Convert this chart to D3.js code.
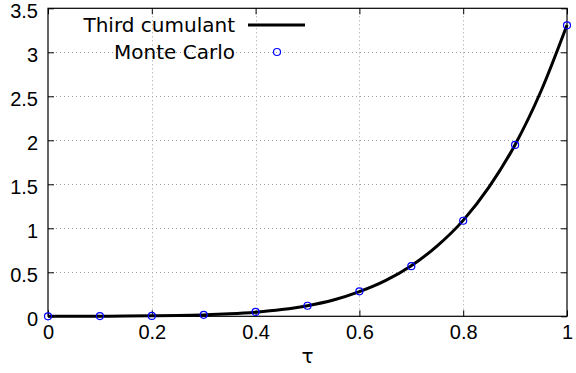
<!DOCTYPE html>
<html>
<head>
<meta charset="utf-8">
<script src="https://cdn.jsdelivr.net/npm/d3@7"></script>
<style>
  body { margin: 0; background: #fff; }
  svg { display: block; font-family: "DejaVu Sans", sans-serif; }
</style>
</head>
<body>
<div id="chart"></div>
<script>
// curve (third cumulant)
const curveTau = [0, 0.05, 0.1, 0.15, 0.2, 0.25, 0.3, 0.35, 0.4, 0.45, 0.5, 0.55, 0.6, 0.65, 0.7, 0.75, 0.8, 0.85, 0.9, 0.95, 1.0];
const curveVal = [0, 0, 0.001, 0.002, 0.005, 0.009, 0.016, 0.028, 0.047, 0.076, 0.12, 0.185, 0.28, 0.405, 0.575, 0.8, 1.09, 1.47, 1.95, 2.56, 3.31];

// monte carlo points
const mcTau = [0, 0.1, 0.2, 0.3, 0.4, 0.5, 0.6, 0.7, 0.8, 0.9, 1.0];
const mcVal = [0, 0.002, 0.004, 0.017, 0.05, 0.12, 0.284, 0.57, 1.086, 1.947, 3.307];

const xTicks = [0, 0.2, 0.4, 0.6, 0.8, 1];
const yTicks = [0, 0.5, 1, 1.5, 2, 2.5, 3, 3.5];

const width = 576, height = 373;
const plotL = 48, plotR = 567, plotT = 8.3, plotB = 316.3;
const fontSize = "20px";

const svg = d3.select("#chart").append("svg")
  .attr("width", width)
  .attr("height", height);

const x = d3.scaleLinear().domain([0, 1]).range([plotL, plotR]);
const y = d3.scaleLinear().domain([0, 3.5]).range([plotB, plotT]);

// grid
const grid = svg.append("g")
  .attr("stroke", "#a0a0a0")
  .attr("stroke-width", 1)
  .attr("stroke-dasharray", "1,3");
grid.selectAll("line.v")
  .data(xTicks.slice(1, -1))
  .join("line")
  .attr("class", "v")
  .attr("x1", d => Math.round(x(d)) + 0.5)
  .attr("x2", d => Math.round(x(d)) + 0.5)
  .attr("y1", plotT)
  .attr("y2", plotB);
grid.selectAll("line.h")
  .data(yTicks.slice(1, -1))
  .join("line")
  .attr("class", "h")
  .attr("x1", plotL)
  .attr("x2", plotR)
  .attr("y1", d => Math.round(y(d)) + 0.5)
  .attr("y2", d => Math.round(y(d)) + 0.5);

// axes, gnuplot style ticks inward and mirrored
const tl = 6;
svg.append("g")
  .attr("transform", "translate(0," + plotB + ")")
  .call(d3.axisBottom(x).tickValues(xTicks).tickSize(-tl).tickPadding(9).tickFormat(d3.format("")))
  .call(g => g.select(".domain").remove())
  .call(g => g.selectAll("text").style("font-size", fontSize).attr("fill", "#000"));

svg.append("g")
  .attr("transform", "translate(0," + plotT + ")")
  .call(d3.axisTop(x).tickValues(xTicks).tickSize(-tl).tickFormat(""))
  .call(g => g.select(".domain").remove());

svg.append("g")
  .attr("transform", "translate(" + plotL + ",0)")
  .call(d3.axisLeft(y).tickValues(yTicks).tickSize(-tl).tickPadding(10).tickFormat(d3.format("")))
  .call(g => g.select(".domain").remove())
  .call(g => g.selectAll("text").style("font-size", fontSize).attr("fill", "#000").attr("dy", "0.45em"));

svg.append("g")
  .attr("transform", "translate(" + plotR + ",0)")
  .call(d3.axisRight(y).tickValues(yTicks).tickSize(-tl).tickFormat(""))
  .call(g => g.select(".domain").remove());

svg.selectAll(".tick line").attr("stroke", "#000");

// border
svg.append("rect")
  .attr("x", plotL)
  .attr("y", plotT)
  .attr("width", plotR - plotL)
  .attr("height", plotB - plotT)
  .attr("fill", "none")
  .attr("stroke", "#000")
  .attr("stroke-width", 1.2);

// x title
svg.append("text")
  .attr("x", (plotL + plotR) / 2)
  .attr("y", 363)
  .attr("text-anchor", "middle")
  .style("font-size", fontSize)
  .text("τ");

// curve
const line = d3.line()
  .x((d, i) => x(curveTau[i]))
  .y(d => y(d))
  .curve(d3.curveMonotoneX);

svg.append("path")
  .datum(curveVal)
  .attr("fill", "none")
  .attr("stroke", "#000")
  .attr("stroke-width", 3)
  .attr("d", line);

// points
svg.append("g")
  .selectAll("circle")
  .data(mcVal)
  .join("circle")
  .attr("cx", (d, i) => x(mcTau[i]))
  .attr("cy", d => y(d))
  .attr("r", 3.5)
  .attr("fill", "none")
  .attr("stroke", "#0000ff")
  .attr("stroke-width", 1.2);

// legend
const legend = svg.append("g").style("font-size", fontSize);
legend.append("text")
  .attr("x", 235).attr("y", 25)
  .attr("dy", "0.35em")
  .attr("text-anchor", "end")
  .text("Third cumulant");
legend.append("line")
  .attr("x1", 248).attr("x2", 305)
  .attr("y1", 25).attr("y2", 25)
  .attr("stroke", "#000")
  .attr("stroke-width", 3);
legend.append("text")
  .attr("x", 235).attr("y", 52)
  .attr("dy", "0.35em")
  .attr("text-anchor", "end")
  .text("Monte Carlo");
legend.append("circle")
  .attr("cx", 277).attr("cy", 52)
  .attr("r", 3.5)
  .attr("fill", "none")
  .attr("stroke", "#0000ff")
  .attr("stroke-width", 1.2);
</script>
</body>
</html>
